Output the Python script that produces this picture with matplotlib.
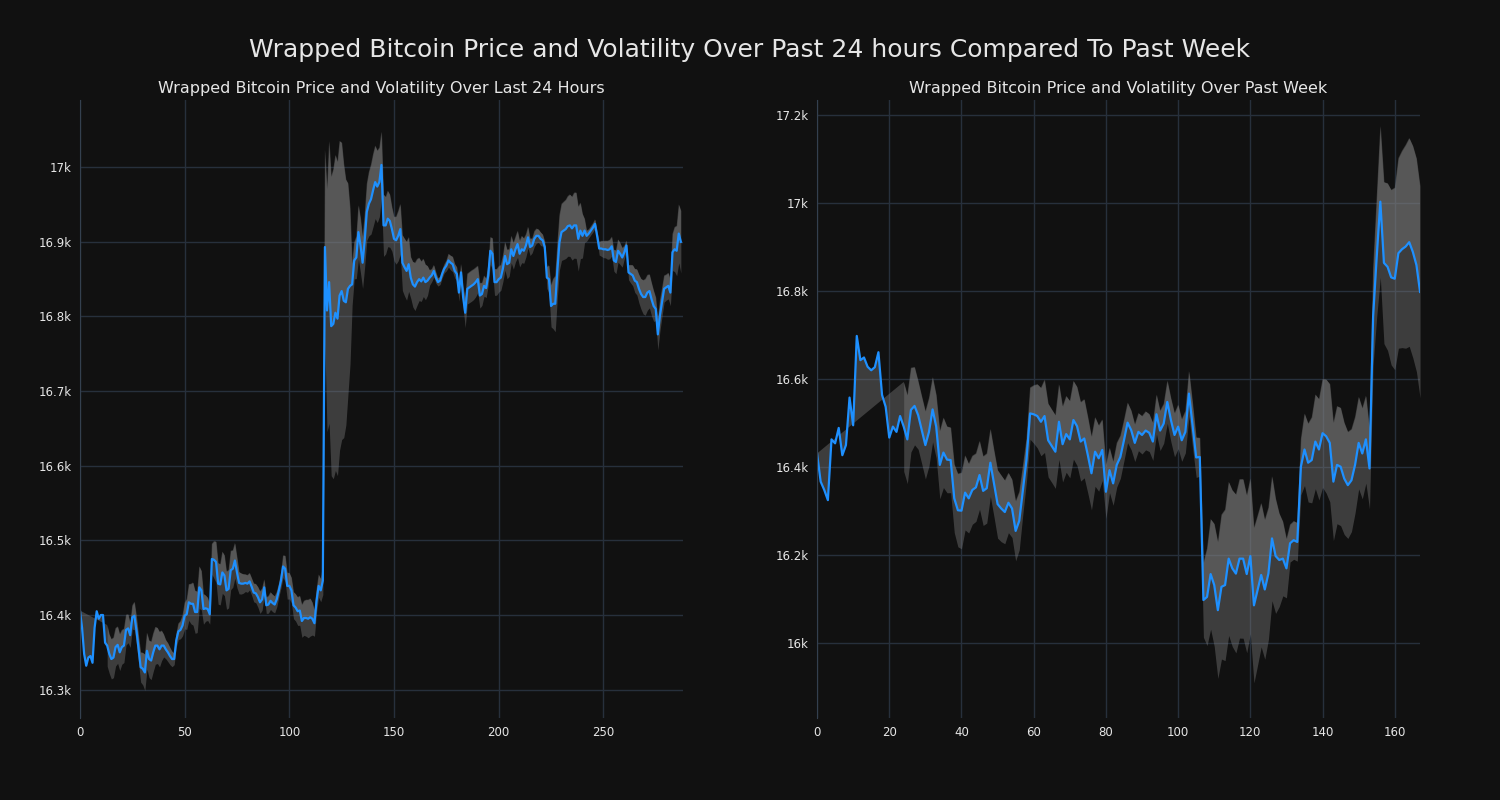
import numpy as np
import pandas as pd
import matplotlib
matplotlib.use("Agg")
import matplotlib.pyplot as plt
from matplotlib.ticker import FuncFormatter

# 5-minute prices over the last 24 hours (288 points)
day_prices = [
    16406, 16383, 16348, 16332, 16343, 16345, 16336, 16383, 16405, 16395,
    16400, 16400, 16363, 16359, 16348, 16341, 16343, 16357, 16360, 16350,
    16357, 16359, 16380, 16382, 16373, 16397, 16399, 16379, 16354, 16330,
    16328, 16323, 16352, 16341, 16339, 16350, 16359, 16359, 16354, 16359,
    16359, 16354, 16350, 16345, 16341, 16341, 16366, 16378, 16380, 16386,
    16399, 16401, 16417, 16415, 16415, 16404, 16404, 16437, 16433, 16408,
    16409, 16408, 16401, 16475, 16474, 16471, 16442, 16441, 16457, 16453,
    16433, 16435, 16460, 16462, 16473, 16457, 16443, 16442, 16442, 16443,
    16442, 16445, 16438, 16430, 16429, 16424, 16417, 16421, 16437, 16413,
    16414, 16419, 16416, 16414, 16421, 16433, 16446, 16465, 16462, 16439,
    16439, 16433, 16413, 16410, 16405, 16406, 16392, 16396, 16396, 16395,
    16397, 16395, 16389, 16419, 16439, 16433, 16446, 16893, 16808, 16846,
    16787, 16790, 16805, 16797, 16828, 16834, 16821, 16819, 16837, 16841,
    16843, 16875, 16879, 16913, 16895, 16872, 16902, 16940, 16951, 16957,
    16969, 16980, 16974, 16980, 17003, 16922, 16922, 16931, 16928, 16917,
    16904, 16902, 16908, 16917, 16872, 16866, 16861, 16870, 16852, 16843,
    16840, 16846, 16850, 16847, 16852, 16846, 16848, 16852, 16855, 16861,
    16852, 16846, 16848, 16857, 16864, 16868, 16875, 16872, 16870, 16861,
    16857, 16832, 16859, 16826, 16805, 16837, 16839, 16841, 16843, 16846,
    16850, 16828, 16830, 16841, 16838, 16855, 16888, 16884, 16846, 16846,
    16850, 16852, 16864, 16881, 16870, 16872, 16890, 16881, 16890, 16897,
    16884, 16890, 16888, 16895, 16906, 16893, 16895, 16904, 16908, 16908,
    16904, 16902, 16893, 16852, 16850, 16814, 16817, 16817, 16861, 16899,
    16913, 16915, 16917, 16921, 16922, 16918, 16922, 16922, 16904, 16915,
    16908, 16915, 16908, 16911, 16915, 16919, 16924, 16908, 16891, 16891,
    16890, 16890, 16889, 16890, 16894, 16875, 16873, 16888, 16884, 16879,
    16886, 16895, 16859, 16857, 16855, 16848, 16846, 16837, 16830, 16826,
    16826, 16832, 16834, 16823, 16814, 16810, 16776, 16801, 16819, 16837,
    16839, 16841, 16832, 16886, 16890, 16888, 16911, 16900,
]

# hourly prices over the past week (168 points)
week_prices = [
    16431, 16367, 16348, 16325, 16463, 16454, 16489, 16427, 16450, 16558,
    16495, 16698, 16643, 16649, 16628, 16620, 16627, 16661, 16564, 16537,
    16467, 16492, 16480, 16516, 16492, 16463, 16530, 16539, 16518, 16484,
    16450, 16480, 16531, 16492, 16405, 16433, 16417, 16416, 16329, 16302,
    16301, 16342, 16329, 16348, 16354, 16382, 16346, 16352, 16410, 16363,
    16316, 16306, 16298, 16319, 16306, 16255, 16278, 16348, 16416, 16522,
    16520, 16516, 16503, 16516, 16461, 16448, 16435, 16503, 16452, 16475,
    16463, 16507, 16493, 16458, 16465, 16427, 16386, 16435, 16420, 16439,
    16344, 16393, 16363, 16405, 16423, 16461, 16501, 16484, 16455, 16480,
    16473, 16483, 16478, 16458, 16520, 16483, 16499, 16548, 16507, 16473,
    16492, 16461, 16480, 16567, 16495, 16422, 16423, 16098, 16105, 16157,
    16132, 16075, 16128, 16132, 16192, 16170, 16158, 16192, 16192, 16157,
    16198, 16086, 16120, 16155, 16122, 16158, 16238, 16198, 16189, 16192,
    16170, 16227, 16234, 16230, 16401, 16440, 16410, 16416, 16458, 16440,
    16477, 16470, 16455, 16367, 16405, 16401, 16374, 16359, 16370, 16405,
    16455, 16431, 16463, 16397, 16742, 16878, 17003, 16864, 16855, 16831,
    16828, 16886, 16895, 16901, 16911, 16889, 16859, 16798,
]

day_window = 14
week_window = 25

BG = "#111111"
GRID = "#27303c"
LINE = "#1e90ff"
TEXT = "#e6e6e6"


def k_fmt(v, pos):
    return f"{v / 1000:g}k"


def draw(ax, prices, window, title, ylim, xlim, xticks, yticks):
    s = pd.Series(prices, dtype=float)
    x = np.arange(len(s))
    vol = s.rolling(window).std()
    upper = s + vol
    lower = s - vol
    ok = upper.notna().values

    # price-to-upper polygon (NaNs dropped, so it closes back to the first price)
    px = np.concatenate([x, x[ok][::-1]])
    py = np.concatenate([s.values, upper.values[ok][::-1]])
    ax.fill(px, py, color="grey", alpha=0.4, linewidth=0)
    ax.fill_between(x, lower, upper, color="grey", alpha=0.4, linewidth=0)
    ax.plot(x, s, color=LINE, linewidth=1.6)

    ax.set_facecolor(BG)
    ax.set_title(title, color=TEXT, fontsize=11.5, pad=5)
    ax.set_xlim(*xlim)
    ax.set_ylim(*ylim)
    ax.set_xticks(xticks)
    ax.set_yticks(yticks)
    ax.yaxis.set_major_formatter(FuncFormatter(k_fmt))
    ax.grid(True, color=GRID, linewidth=1)
    ax.set_axisbelow(True)
    ax.tick_params(colors=TEXT, labelsize=8.5, length=0, pad=6)
    for side in ["top", "right", "bottom"]:
        ax.spines[side].set_visible(False)
    ax.spines["left"].set_color("#34404f")


fig = plt.figure(figsize=(15, 8), dpi=100, facecolor=BG)
ax1 = fig.add_axes([0.0533, 0.1025, 0.402, 0.7725])
ax2 = fig.add_axes([0.5447, 0.1025, 0.402, 0.7725])

draw(ax1, day_prices, day_window,
     "Wrapped Bitcoin Price and Volatility Over Last 24 Hours",
     (16262, 17090), (0, 288), [0, 50, 100, 150, 200, 250],
     [16300, 16400, 16500, 16600, 16700, 16800, 16900, 17000])
draw(ax2, week_prices, week_window,
     "Wrapped Bitcoin Price and Volatility Over Past Week",
     (15830, 17234), (0, 167), [0, 20, 40, 60, 80, 100, 120, 140, 160],
     [16000, 16200, 16400, 16600, 16800, 17000, 17200])

fig.suptitle("Wrapped Bitcoin Price and Volatility Over Past 24 hours Compared To Past Week",
             color=TEXT, fontsize=18, y=0.952)

fig.savefig("out.png", facecolor=BG)
